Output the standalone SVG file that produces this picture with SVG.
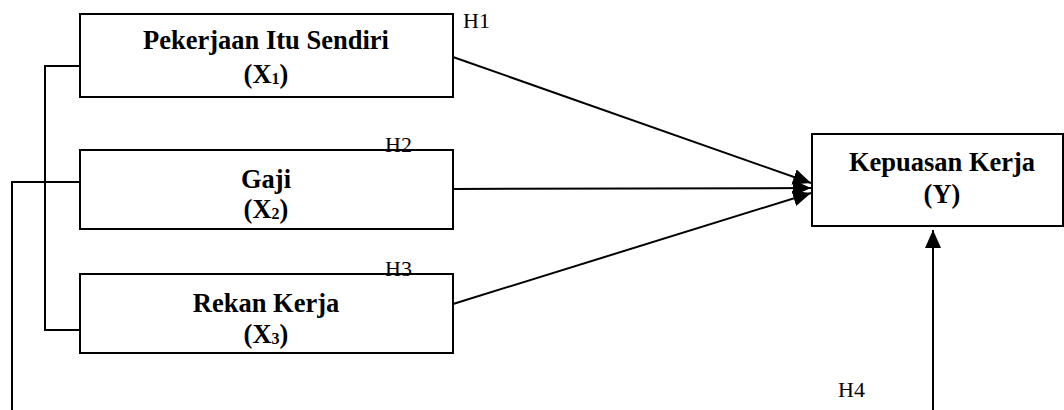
<svg xmlns="http://www.w3.org/2000/svg" width="1064" height="410" viewBox="0 0 1064 410">
<defs>
<marker id="ah2" markerWidth="18" markerHeight="16" refX="18" refY="8" orient="auto" markerUnits="userSpaceOnUse" viewBox="0 0 18 16">
<path d="M0,0 L18,8 L0,16 z" fill="#000"/>
</marker>
</defs>
<g id="connectors" fill="none" stroke="#000" stroke-width="2">
<polyline points="80,66 45,66 45,330 80,330"/>
<polyline points="80,182 12,182 12,410"/>
<line x1="453" y1="57" x2="811" y2="183" marker-end="url(#ah2)"/>
<line x1="453" y1="189" x2="811" y2="188" marker-end="url(#ah2)"/>
<line x1="453" y1="304" x2="811" y2="193" marker-end="url(#ah2)"/>
<line x1="933" y1="410" x2="933" y2="230" marker-end="url(#ah2)"/>
</g>
<g font-family="'Liberation Serif', 'Times New Roman', serif" font-weight="bold" font-size="26.5" text-anchor="middle" fill="#000">
<g id="node-x1">
<rect fill="#fff" stroke="#000" stroke-width="2" x="80" y="14" width="373" height="83"/>
<text x="266" y="49">Pekerjaan Itu Sendiri</text>
<text x="266" y="83">(X<tspan font-size="16" dy="1">1</tspan><tspan dy="-1">)</tspan></text>
</g>
<g id="node-x2">
<rect fill="#fff" stroke="#000" stroke-width="2" x="80" y="150" width="373" height="79"/>
<text x="266" y="188">Gaji</text>
<text x="266" y="218">(X<tspan font-size="16" dy="1">2</tspan><tspan dy="-1">)</tspan></text>
</g>
<g id="node-x3">
<rect fill="#fff" stroke="#000" stroke-width="2" x="80" y="274" width="373" height="79"/>
<text x="266" y="312">Rekan Kerja</text>
<text x="266" y="343">(X<tspan font-size="16" dy="1">3</tspan><tspan dy="-1">)</tspan></text>
</g>
<g id="node-y">
<rect fill="#fff" stroke="#000" stroke-width="2" x="812" y="134" width="251" height="92"/>
<text x="942" y="171">Kepuasan Kerja</text>
<text x="942" y="203">(Y)</text>
</g>
</g>
<g id="labels" font-family="'Liberation Serif', 'Times New Roman', serif" font-size="22" fill="#000">
<text x="463" y="28">H1</text>
<text x="385" y="152">H2</text>
<text x="385" y="276">H3</text>
<text x="838" y="397">H4</text>
</g>
</svg>
